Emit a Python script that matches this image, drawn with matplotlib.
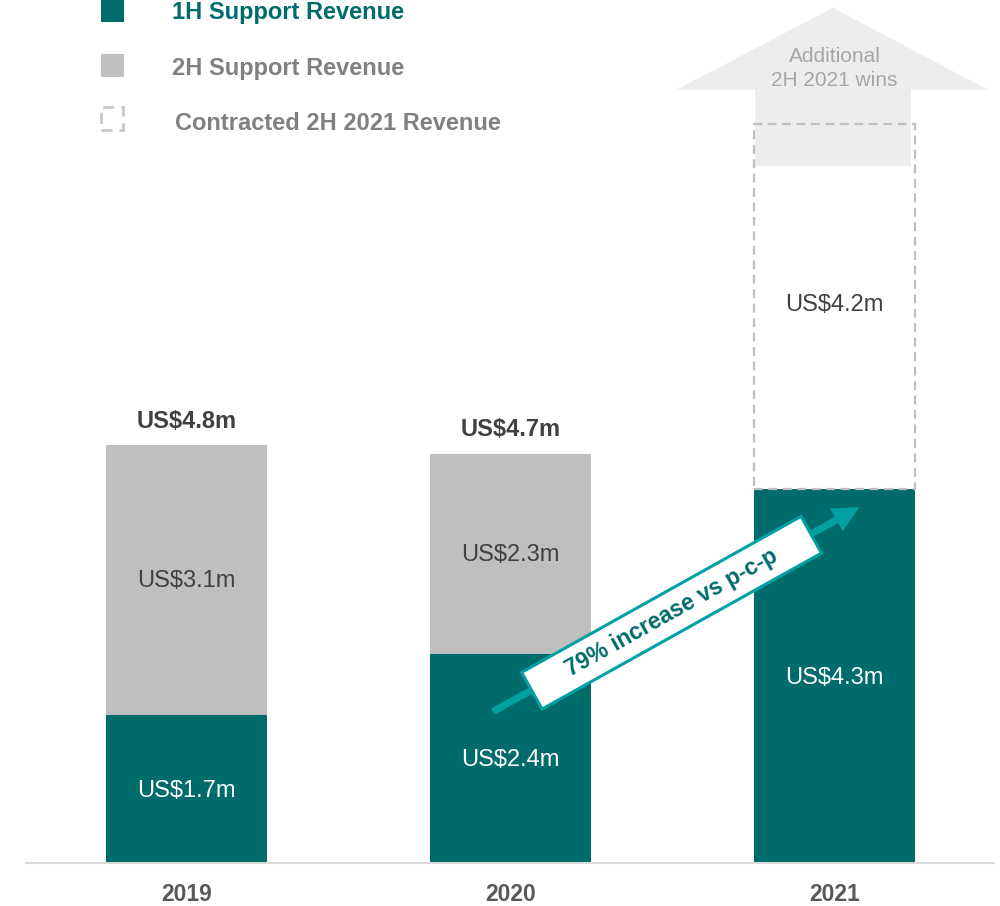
import numpy as np
import matplotlib.pyplot as plt
import matplotlib.patches as mpatches
import matplotlib.transforms as mtransforms

plt.rcParams['font.family'] = ['Liberation Sans', 'DejaVu Sans']

# data (US$m)
years = ['2019', '2020', '2021']
first_half = [1.7, 2.4, 4.3]
second_half = [3.1, 2.3, 0.0]
contracted_2h = [0.0, 0.0, 4.2]
totals = ['US$4.8m', 'US$4.7m', '']
uplift_text = '79% increase vs p-c-p'

teal = '#006B6B'
teal_light = '#00A0A3'
grey = '#BFBFBF'
dark = '#404040'
arrow_grey = '#EDEDED'

fig = plt.figure(figsize=(10, 9.06), dpi=100)
ax = fig.add_axes([0, 0, 1, 1])
ax.set_xlim(-0.5756, 2.5108)
ax.set_ylim(-0.494, 9.92)
ax.axis('off')

x = np.arange(len(years))
w = 0.497

# big "additional wins" arrow behind the 2021 bar
i = 2
top21 = first_half[i] + contracted_2h[i]
arrow_pts = [
    (x[i] - 0.245, top21 - 0.49), (x[i] - 0.245, top21 + 0.39),
    (x[i] - 0.487, top21 + 0.39), (x[i] - 0.005, top21 + 1.33),
    (x[i] + 0.473, top21 + 0.39), (x[i] + 0.236, top21 + 0.39),
    (x[i] + 0.236, top21 - 0.49),
]
ax.add_patch(mpatches.Polygon(arrow_pts, closed=True, fc=arrow_grey, ec='none', zorder=1))
ax.text(x[i], top21 + 0.63, 'Additional\n2H 2021 wins', ha='center', va='center',
        fontsize=15, color='#A6A6A6', linespacing=1.3, zorder=2)

# bars
ax.bar(x, first_half, w, color=teal, zorder=3)
ax.bar(x, second_half, w, bottom=first_half, color=grey, zorder=3)
# contracted revenue: white box with dashed outline
ax.bar(x[i], top21 - first_half[i] - 0.49, w, bottom=first_half[i], color='white', zorder=2)
has_c = np.array(contracted_2h) > 0
ax.bar(x[has_c], np.array(contracted_2h)[has_c], w, bottom=np.array(first_half)[has_c],
       fill=False, edgecolor=grey, linestyle=(0, (4, 2.5)), linewidth=1.6, zorder=3)

# baseline
ax.plot([-0.498, 2.495], [0, 0], color='#D9D9D9', lw=1.5, zorder=4, solid_capstyle='butt')

# value labels
for xi, a, b, c, t in zip(x, first_half, second_half, contracted_2h, totals):
    ax.text(xi, a / 2 - 0.02, f'US${a}m', ha='center', va='center', fontsize=17,
            color='white', zorder=5)
    if b > 0:
        ax.text(xi, a + b / 2 - 0.01, f'US${b}m', ha='center', va='center', fontsize=17,
                color=dark, zorder=5)
    if c > 0:
        ax.text(xi, a + c / 2 + 0.01, f'US${c}m', ha='center', va='center', fontsize=17,
                color=dark, zorder=5)
    if t:
        ax.text(xi, a + b + 0.28, t, ha='center', va='center', fontsize=17,
                fontweight='bold', color=dark, zorder=5)
    ax.text(xi, -0.36, years[xi], ha='center', va='center', fontsize=16.5,
            fontweight='bold', color='#595959')

# growth arrow with rotated label
fig.canvas.draw()
tail = ax.transData.transform((0.946, 1.74))
tip = ax.transData.transform((2.076, 4.09))
d = tip - tail
ang = np.degrees(np.arctan2(d[1], d[0]))
ax.add_patch(mpatches.FancyArrow(tail[0], tail[1], d[0], d[1], width=7, head_width=26,
                                 head_length=26, length_includes_head=True,
                                 fc=teal_light, ec='none', transform=None, zorder=6))
mid = ax.transData.transform((1.497, 2.877))
box_tr = mtransforms.Affine2D().rotate_deg(ang).translate(mid[0], mid[1])
ax.add_patch(mpatches.Rectangle((-160, -21), 320, 42, fc='white', ec=teal_light, lw=2.2,
                                transform=box_tr, zorder=7))
ax.text(mid[0], mid[1], uplift_text, transform=None, rotation=ang, rotation_mode='anchor',
        ha='center', va='center', fontsize=16.5, fontweight='bold', color=teal, zorder=8)

# legend
W, H = 1000, 906
def fr(px, py):
    return px / W, 1 - py / H

fig.add_artist(mpatches.Rectangle(fr(101, 22), 23 / W, 22 / H, fc=teal, ec='none',
                                  transform=fig.transFigure))
fig.add_artist(mpatches.Rectangle(fr(101, 77), 23 / W, 23 / H, fc=grey, ec='none',
                                  transform=fig.transFigure))
fig.add_artist(mpatches.Rectangle(fr(101, 130), 22 / W, 23 / H, fill=False, ec='#C8C8C8',
                                  lw=2, linestyle=(0, (4, 2.5)), transform=fig.transFigure))
fig.text(*fr(172, 12), '1H Support Revenue', ha='left', va='center', fontsize=17,
         fontweight='bold', color=teal)
fig.text(*fr(172, 68), '2H Support Revenue', ha='left', va='center', fontsize=17,
         fontweight='bold', color='#808080')
fig.text(*fr(175, 124), 'Contracted 2H 2021 Revenue', ha='left', va='center', fontsize=17,
         fontweight='bold', color='#808080')

fig.savefig('out.png', dpi=100)
